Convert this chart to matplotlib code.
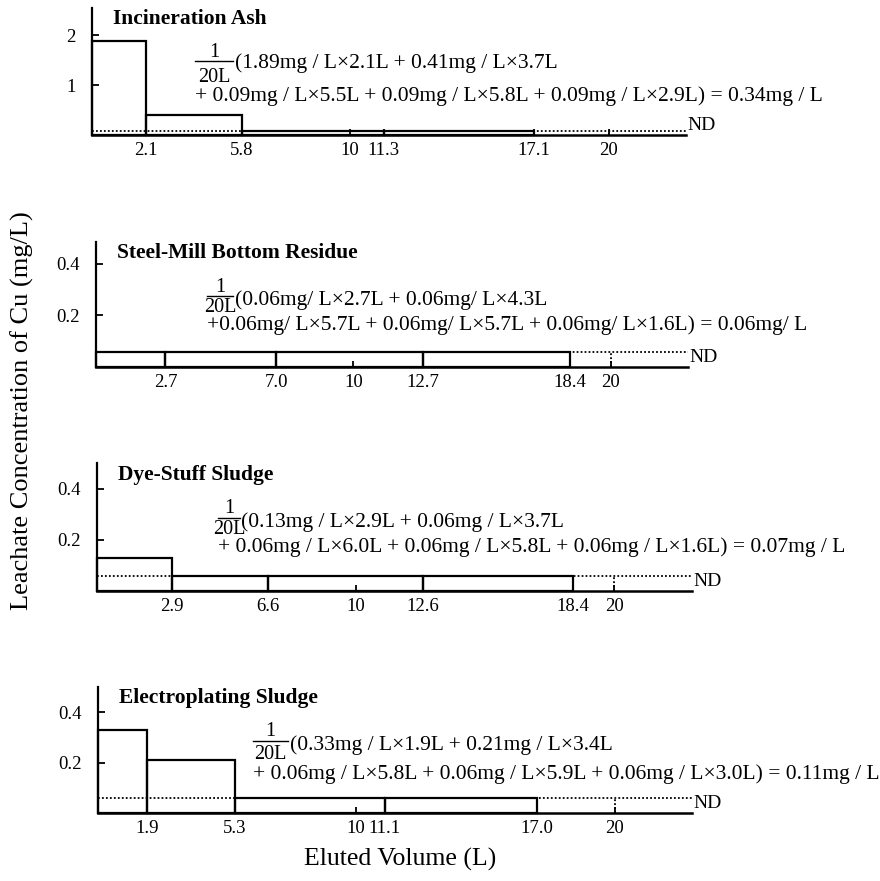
import matplotlib
matplotlib.use("Agg")
import matplotlib.pyplot as plt
from matplotlib.lines import Line2D

plt.rcParams['font.family'] = ['Liberation Serif', 'DejaVu Serif']

W, H = 880, 881

# --- values: fraction edges (L), Cu conc (mg/L) ---
names = ["Incineration Ash", "Steel-Mill Bottom Residue",
         "Dye-Stuff Sludge", "Electroplating Sludge"]

ash_edges = [0, 2.1, 5.8, 11.3, 17.1, 20]
ash_conc = [1.89, 0.41, 0.09, 0.09, 0.09]
ash_detected = [True, True, True, True, False]
ash_ticks = ["2.1", "5.8", "10", "11.3", "17.1", "20"]

steel_edges = [0, 2.7, 7.0, 12.7, 18.4, 20]
steel_conc = [0.06, 0.06, 0.06, 0.06, 0.06]
steel_detected = [True, True, True, True, False]
steel_ticks = ["2.7", "7.0", "10", "12.7", "18.4", "20"]

dye_edges = [0, 2.9, 6.6, 12.6, 18.4, 20]
dye_conc = [0.13, 0.06, 0.06, 0.06, 0.06]
dye_detected = [True, True, True, True, False]
dye_ticks = ["2.9", "6.6", "10", "12.6", "18.4", "20"]

elec_edges = [0, 1.9, 5.3, 11.1, 17.0, 20]
elec_conc = [0.33, 0.21, 0.06, 0.06, 0.06]
elec_detected = [True, True, True, True, False]
elec_ticks = ["1.9", "5.3", "10", "11.1", "17.0", "20"]

nd_levels = [0.09, 0.06, 0.06, 0.06]
ymax = [2.54, 0.485, 0.50, 0.50]
yticks = [["1", "2"], ["0.2", "0.4"], ["0.2", "0.4"], ["0.2", "0.4"]]

formula_1 = ["(1.89mg / L\u00d72.1L + 0.41mg / L\u00d73.7L",
             "(0.06mg/ L\u00d72.7L + 0.06mg/ L\u00d74.3L",
             "(0.13mg / L\u00d72.9L + 0.06mg / L\u00d73.7L",
             "(0.33mg / L\u00d71.9L + 0.21mg / L\u00d73.4L"]
formula_2 = ["+ 0.09mg / L\u00d75.5L + 0.09mg / L\u00d75.8L + 0.09mg / L\u00d72.9L) = 0.34mg / L",
             "+0.06mg/ L\u00d75.7L + 0.06mg/ L\u00d75.7L + 0.06mg/ L\u00d71.6L) = 0.06mg/ L",
             "+ 0.06mg / L\u00d76.0L + 0.06mg / L\u00d75.8L + 0.06mg / L\u00d71.6L) = 0.07mg / L",
             "+ 0.06mg / L\u00d75.8L + 0.06mg / L\u00d75.9L + 0.06mg / L\u00d73.0L) = 0.11mg / L"]

all_edges = [ash_edges, steel_edges, dye_edges, elec_edges]
all_conc = [ash_conc, steel_conc, dye_conc, elec_conc]
all_detected = [ash_detected, steel_detected, dye_detected, elec_detected]
all_ticks = [ash_ticks, steel_ticks, dye_ticks, elec_ticks]

# layout in pixels: axis left, axis top, axis right, baseline
rects = [(92, 8, 686, 135), (96, 242, 688, 367),
         (97, 463, 692, 591), (98, 687, 692, 813)]
# fraction bar x0, x1, y ; baselines of "1", "20L" ; line1 x, baseline ; line2 x, baseline
frac_pos = [(195, 233, 61, 57, 82, 235, 68, 195, 101),
            (207, 233, 296, 292, 312, 235, 305, 207, 330),
            (218, 240, 518, 513, 534, 241, 527, 218, 552),
            (253, 288, 741, 736, 759, 290, 750, 253, 779)]

fs_tick = 13.5
fs_form = 15.5

fig = plt.figure(figsize=(W / 100, H / 100), dpi=100)


def fx(x):
    return x / W


def fy(y):
    return 1 - y / H


for i in range(4):
    l, t, r, b = rects[i]
    ax = fig.add_axes([fx(l), fy(b), (r - l) / W, (b - t) / H])
    edges = all_edges[i]
    conc = all_conc[i]
    det = all_detected[i]

    for k in range(len(conc)):
        if det[k]:
            ax.bar(edges[k], conc[k], width=edges[k + 1] - edges[k], align='edge',
                   fill=False, edgecolor='black', linewidth=1.6, clip_on=False)

    nd = nd_levels[i]
    ax.hlines(nd, 0, 23, colors='black', linestyles=(0, (1, 1.2)), linewidth=1.3,
              clip_on=False)
    ax.vlines(20, 0, nd, colors='black', linestyles=(0, (1, 1.2)), linewidth=1.3)
    ax.annotate("ND", xy=(23, 0), xytext=(1, 7), textcoords='offset points',
                va='center', ha='left', fontsize=14)

    ax.set_xlim(0, 23)
    ax.set_ylim(0, ymax[i])
    for s in ['top', 'right']:
        ax.spines[s].set_visible(False)
    ax.spines['left'].set_linewidth(1.6)
    ax.spines['bottom'].set_linewidth(1.8)

    tl = all_ticks[i]
    ax.set_xticks([float(v) for v in tl])
    ax.set_xticklabels(tl)
    ax.set_yticks([float(v) for v in yticks[i]])
    ax.set_yticklabels(yticks[i])
    ax.tick_params(axis='x', direction='in', length=4, width=1.3, pad=5,
                   labelsize=fs_tick)
    ax.tick_params(axis='y', direction='in', length=5, width=1.3, pad=12,
                   labelsize=fs_tick)

    ax.text(0.035, 0.91, names[i], transform=ax.transAxes, fontsize=15.5,
            fontweight='bold', va='center', ha='left')

    # 1/20L fraction in front of the averaging formula
    x0, x1, yb, b1, b20, lx, ly, l2x, l2y = frac_pos[i]
    fig.add_artist(Line2D([fx(x0), fx(x1)], [fy(yb), fy(yb)], color='black',
                          linewidth=1.0, transform=fig.transFigure))
    xc = (x0 + x1) / 2
    fig.text(fx(xc), fy(b1), "1", ha='center', va='baseline', fontsize=14.5)
    fig.text(fx(xc), fy(b20), "20L", ha='center', va='baseline', fontsize=14.5)
    fig.text(fx(lx), fy(ly), formula_1[i], ha='left', va='baseline', fontsize=fs_form)
    fig.text(fx(l2x), fy(l2y), formula_2[i], ha='left', va='baseline', fontsize=fs_form)

fig.text(fx(22), fy(411), "Leachate Concentration of Cu (mg/L)", rotation=90,
         ha='center', va='center', fontsize=19)
fig.text(fx(400), fy(859), "Eluted Volume (L)", ha='center', va='center',
         fontsize=18.5)

fig.savefig("out.png", dpi=100, facecolor='white')
